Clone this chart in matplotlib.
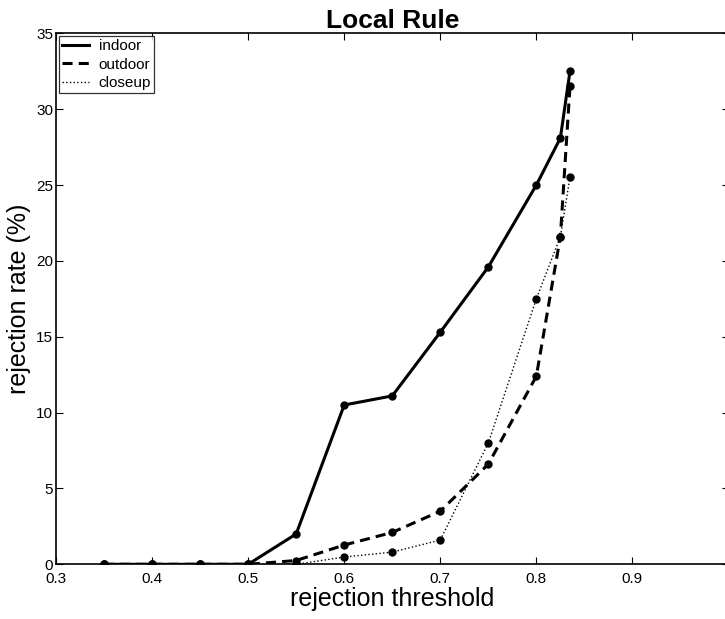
import numpy as np
import matplotlib.pyplot as plt

plt.rcParams['font.family'] = ['Liberation Sans', 'DejaVu Sans']

# thresholds
thr = [0.35, 0.40, 0.45, 0.50, 0.55, 0.60, 0.65, 0.70, 0.75, 0.80, 0.825, 0.835]

# rejection rate (%)
indoor = [0, 0, 0, 0, 2.0, 10.5, 11.1, 15.3, 19.6, 25.0, 28.1, 32.5]
outdoor = [0, 0, 0, 0, 0.25, 1.27, 2.1, 3.5, 6.6, 12.4, 21.6, 31.5]
closeup = [0, 0, 0, 0, 0.0, 0.48, 0.8, 1.6, 8.0, 17.5, 21.6, 25.5]

xticks = [0.3, 0.4, 0.5, 0.6, 0.7, 0.8, 0.9]
yticks = [0, 5, 10, 15, 20, 25, 30, 35]

W, H = 725, 619
fig = plt.figure(figsize=(W / 100, H / 100), dpi=100)
ax = fig.add_axes([56 / W, (H - 564.3) / H, 672.5 / W, 531 / H])

ax.plot(thr, indoor, '-', color='k', lw=2.2, label='indoor')
ax.plot(thr, outdoor, '--', color='k', lw=2.2, dashes=(3.3, 2), label='outdoor')
ax.plot(thr, closeup, ':', color='k', lw=1.0, label='closeup')
for ys in (indoor, outdoor, closeup):
    ax.plot(thr, ys, 'o', color='k', ms=5, mec='k', mfc='k')

ax.set_xlim(0.3, 1.0)
ax.set_ylim(0, 35)
ax.set_xticks(xticks)
ax.set_xticklabels([str(v) for v in xticks])
ax.set_yticks(yticks)
ax.tick_params(direction='in', top=True, right=True, length=5, width=0.8,
               labelsize=11)
ax.tick_params(axis='x', pad=5.5)
ax.tick_params(axis='y', pad=2)
for s in ax.spines.values():
    s.set_linewidth(1.2)

ax.set_xlabel('rejection threshold', fontsize=18, labelpad=1)
ax.set_ylabel('rejection rate (%)', fontsize=18, labelpad=4)
ax.set_title('Local Rule', fontsize=19, fontweight='bold', pad=4)

leg = ax.legend(loc='upper left', fontsize=11, frameon=True, fancybox=False,
                edgecolor='k', borderpad=0.2, labelspacing=0.28,
                handlelength=1.75, handletextpad=0.65, borderaxespad=0.2)
leg.get_frame().set_linewidth(0.9)

fig.savefig('out.png', dpi=100)
